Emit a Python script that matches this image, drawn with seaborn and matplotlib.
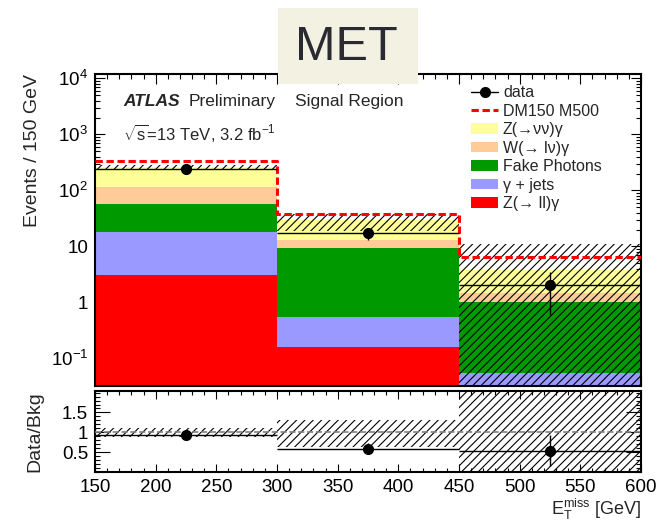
import numpy as np
import pandas as pd
import matplotlib
matplotlib.use('Agg')
import matplotlib.pyplot as plt
import seaborn as sns
from matplotlib.lines import Line2D
from matplotlib.patches import Patch, Rectangle
from matplotlib.ticker import FixedLocator, MultipleLocator, LogLocator, NullFormatter

# binning in E_T^miss [GeV]
bin_edges = [150, 300, 450, 600]
bin_centers = [225, 375, 525]

# background processes (top of the stack first, as in the legend)
processes = ['Z(→νν)γ', 'W(→ lν)γ', 'Fake Photons', 'γ + jets', 'Z(→ ll)γ']
proc_colors = ['#FFFF99', '#FFCC99', '#009900', '#9999FF', '#FF0000']
z_nunu = [147.0, 16.1, 2.35]
w_lnu = [55.0, 3.6, 0.42]
fake_photons = [40.0, 8.75, 0.98]
gamma_jets = [14.9, 0.39, 0.034]
z_ll = [3.1, 0.16, 0.02]

# relative uncertainty on total background (hatched band)
bkg_unc_up = [0.11, 0.32, 1.9]
bkg_unc_down = [0.11, 0.36, 1.0]

# signal DM150 M500, stacked on background
signal_stacked = [329.0, 38.5, 6.5]

# observed data
data_counts = [243.0, 17.0, 2.0]
data_err_down = [15.6, 4.1, 1.4]
data_err_up = [15.6, 4.1, 1.5]

ytick_values = [0.1, 1, 10, 100, 1000, 10000]
ytick_labels = ['$10^{-1}$', '1', '10', '$10^{2}$', '$10^{3}$', '$10^{4}$']
ratio_ticks = [0.5, 1.0, 1.5]
ratio_tick_labels = ['0.5', '1', '1.5']

bkg_values = [z_nunu, w_lnu, fake_photons, gamma_jets, z_ll]
df = pd.DataFrame({
    'met': np.tile(bin_centers, len(processes)),
    'process': np.repeat(processes, len(bin_centers)),
    'events': np.concatenate(bkg_values),
})
bkg_total = np.sum(bkg_values, axis=0)
bin_widths = np.diff(bin_edges)

sns.set_theme(style='ticks')
plt.rcParams['font.family'] = ['Liberation Sans', 'DejaVu Sans']
plt.rcParams['mathtext.fontset'] = 'custom'
plt.rcParams['mathtext.rm'] = 'Liberation Sans'
plt.rcParams['mathtext.it'] = 'Liberation Sans:italic'
plt.rcParams['mathtext.bf'] = 'Liberation Sans:bold'
plt.rcParams['hatch.linewidth'] = 0.8

W, H = 659, 524
fig = plt.figure(figsize=(W / 100, H / 100), dpi=100)
ax = fig.add_axes([95 / W, 1 - 386 / H, 546 / W, 312 / H])
rax = fig.add_axes([95 / W, 1 - 472 / H, 546 / W, 81 / H], sharex=ax)

# stacked backgrounds
sns.histplot(data=df, x='met', weights='events', hue='process', hue_order=processes,
             palette=proc_colors, bins=bin_edges, multiple='stack', element='bars',
             linewidth=0, alpha=1, legend=False, ax=ax)

# background uncertainty band
band_lo = np.clip(bkg_total * (1 - np.array(bkg_unc_down)), 1e-4, None)
band_hi = bkg_total * (1 + np.array(bkg_unc_up))
ax.bar(bin_centers, band_hi - band_lo, bottom=band_lo, width=bin_widths, fill=False,
       hatch='////', edgecolor='black', linewidth=0, zorder=3)

# signal
sns.histplot(x=bin_centers, weights=signal_stacked, bins=bin_edges, element='step',
             fill=False, color='red', linestyle=(0, (2.4, 1.2)), linewidth=2.2, ax=ax, zorder=4)

# data
ax.errorbar(bin_centers, data_counts, xerr=bin_widths / 2, yerr=[data_err_down, data_err_up],
            fmt='o', color='black', markersize=7, elinewidth=1, capsize=0, zorder=5)

ax.set_yscale('log')
ax.set_ylim(0.032, 1.2e4)
ax.yaxis.set_major_locator(FixedLocator(ytick_values))
ax.set_yticklabels(ytick_labels)
ax.yaxis.set_minor_locator(LogLocator(base=10, subs=np.arange(2, 10)))
ax.yaxis.set_minor_formatter(NullFormatter())
ax.set_xlabel('')
ax.set_ylabel('Events / 150 GeV', loc='top', fontsize=14)
ax.yaxis.set_label_coords(-0.099, 1.0)
ax.tick_params(labelbottom=False)

# ratio panel
ratio = np.array(data_counts) / bkg_total
ratio_lo = np.array(data_err_down) / bkg_total
ratio_hi = np.array(data_err_up) / bkg_total
rax.bar(bin_centers, np.array(bkg_unc_up) + np.array(bkg_unc_down),
        bottom=1 - np.array(bkg_unc_down), width=bin_widths, fill=False,
        hatch='////', edgecolor='black', linewidth=0, zorder=2)
rax.axhline(1, color='grey', ls='--', lw=1.2, zorder=3)
rax.errorbar(bin_centers, ratio, xerr=bin_widths / 2, yerr=[ratio_lo, ratio_hi],
             fmt='o', color='black', markersize=7, elinewidth=1, capsize=0, zorder=5)
rax.set_xlim(bin_edges[0], bin_edges[-1])
rax.xaxis.set_major_locator(MultipleLocator(50))
rax.xaxis.set_minor_locator(MultipleLocator(10))
rax.set_ylim(0.0, 2.04)
rax.set_yticks(ratio_ticks)
rax.set_yticklabels(ratio_tick_labels)
rax.yaxis.set_minor_locator(MultipleLocator(0.1))
rax.set_ylabel('Data/Bkg', fontsize=14)
rax.yaxis.set_label_coords(-0.095, 0.5)
rax.set_xlabel(r'$\mathrm{E}_{\mathrm{T}}^{\mathrm{miss}}$ [GeV]', loc='right', fontsize=13)
rax.xaxis.set_label_coords(1.0, -0.31)

for a in (ax, rax):
    a.tick_params(which='both', direction='in', top=True, right=True, width=0.8,
                  colors='black', labelsize=13.5, pad=5)
    a.tick_params(which='major', length=7.5)
    a.tick_params(which='minor', length=3.7)
    for s in a.spines.values():
        s.set_linewidth(1.5)
        s.set_color('black')
rax.tick_params(axis='x', which='major', length=6)
rax.tick_params(axis='x', which='minor', length=3)
rax.tick_params(axis='y', which='major', length=11)

# labels
fig.text(123 / W, 1 - 101.7 / H, 'ATLAS', fontsize=12.5, fontweight='bold', fontstyle='italic',
         va='center')
fig.text(189 / W, 1 - 101.7 / H, 'Preliminary', fontsize=12.5, va='center')
fig.text(295 / W, 1 - 101.7 / H, 'Signal Region', fontsize=12.5, va='center')
fig.text(123 / W, 1 - 133.3 / H, r'$\sqrt{\mathrm{s}}$=13 TeV, 3.2 fb$^{-1}$', fontsize=12, va='center')

handles = [Line2D([], [], color='black', marker='o', markersize=7, lw=1),
           Line2D([], [], color='red', ls=(0, (2.4, 1.2)), lw=2.2)]
handles += [Patch(facecolor=c, edgecolor='none') for c in proc_colors]
labels = ['data', 'DM150 M500'] + processes
fig.legend(handles, labels, loc='upper left', bbox_to_anchor=(471 / W, 1 - 85 / H),
           frameon=False, fontsize=11.5, handlelength=1.7, handleheight=0.65,
           handletextpad=0.3, labelspacing=0.22, borderpad=0, borderaxespad=0)

# slide title box
fig.add_artist(Rectangle((278 / W, 1 - 84 / H), 140 / W, 76 / H, transform=fig.transFigure,
                         facecolor='#F3F1E1', edgecolor='none', zorder=10))
fig.text(346 / W, 1 - 47.5 / H, 'MET', fontsize=35, ha='center', va='center',
         color='#2A2A33', zorder=11)

fig.savefig('out.png', dpi=100)
